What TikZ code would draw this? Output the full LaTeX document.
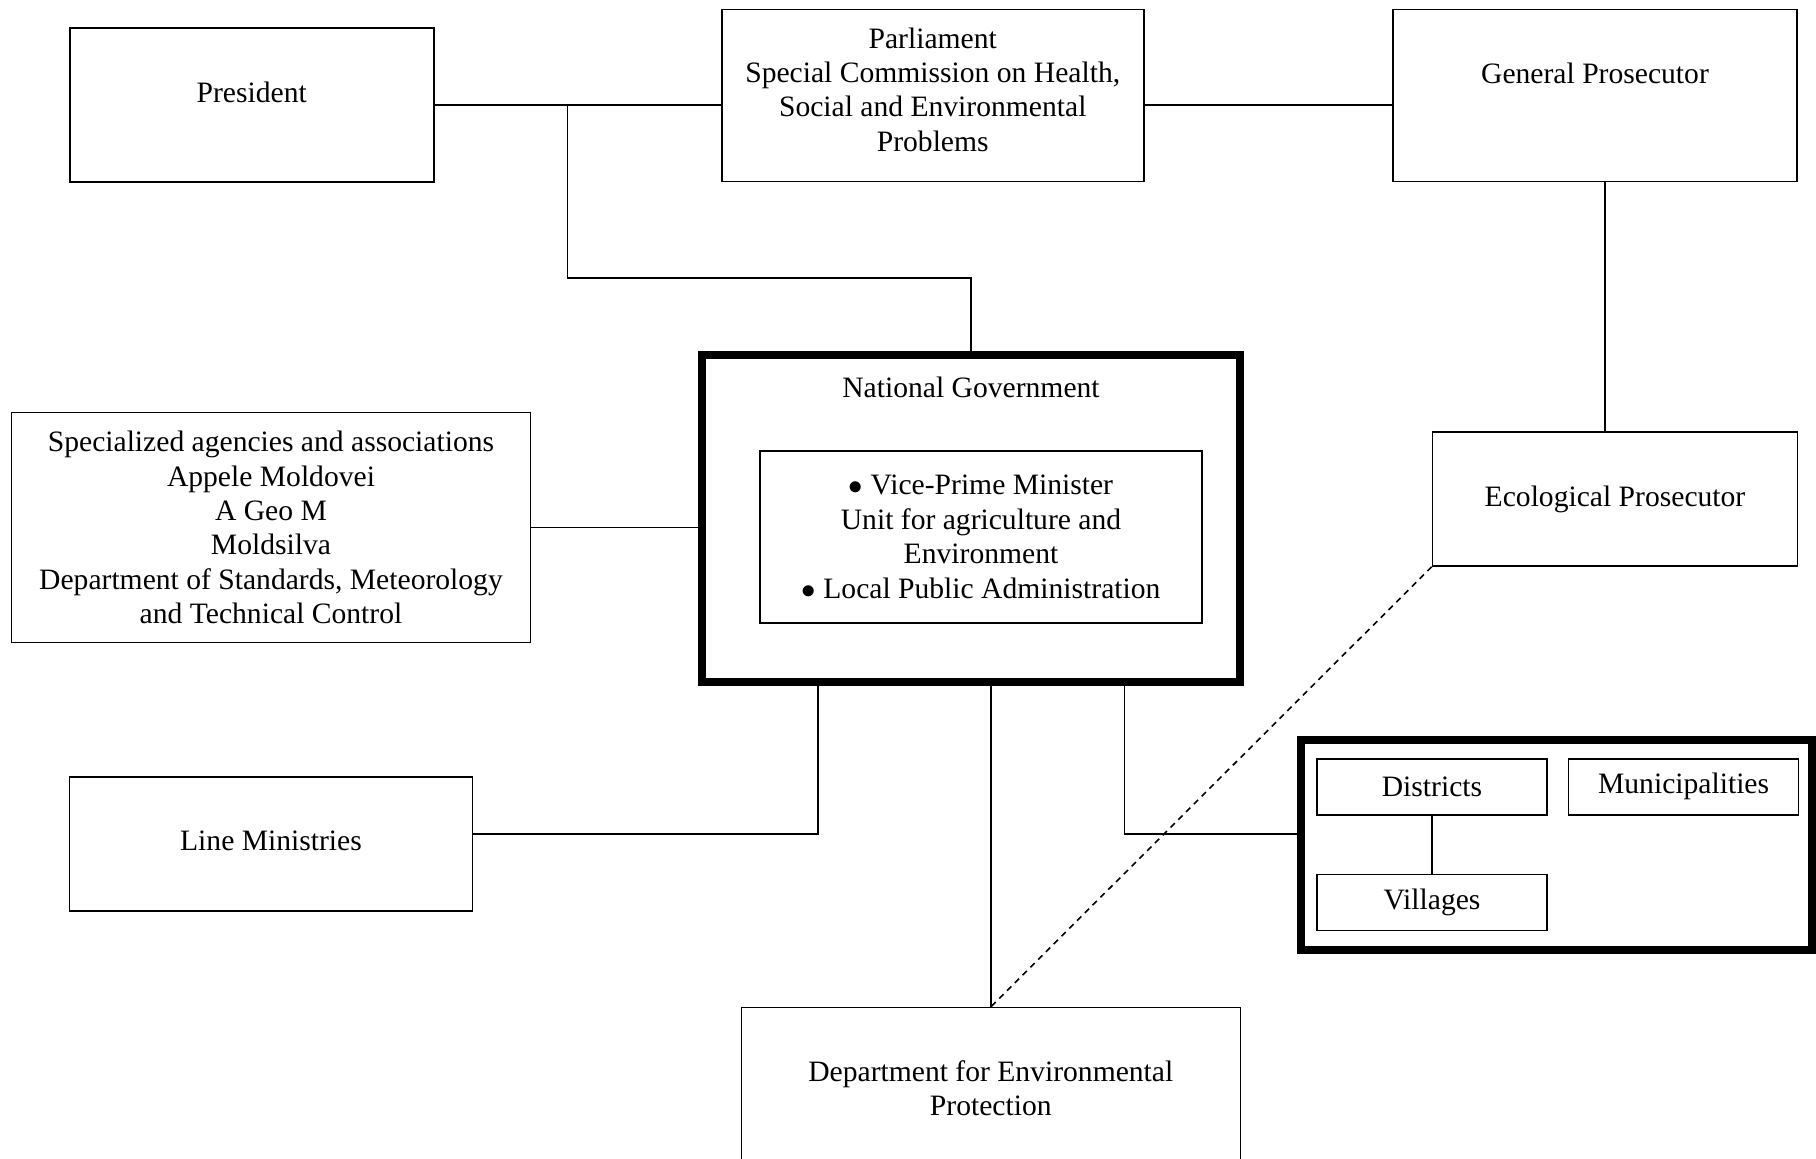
\documentclass[tikz,border=0pt]{standalone}
\usepackage{fontspec}
\setmainfont{Liberation Serif}
\usetikzlibrary{positioning}

\begin{document}
\begin{tikzpicture} [
		x=0.5pt, y=-0.5pt,
		block/.style   = { rectangle, draw=black, line width=0.8pt, align=center,
			font=\fontsize{14.8}{17.2}\selectfont, inner sep=2pt },
		frame/.style   = { rectangle, draw=black, line width=4pt, inner sep=0pt },
		caption/.style = { font=\fontsize{14.8}{17.2}\selectfont, inner sep=0pt },
		line/.style    = { draw, line width=0.8pt },
	]
	\useasboundingbox (0,0) rectangle (1816,1158);
	% Define nodes
	\begin{scope}
		\node [block, minimum width=182pt, minimum height=77pt, text depth=13pt] (pres) at (251.75,104.8) {President};
		\node [block, minimum width=211pt, minimum height=86pt, text depth=6pt] (parl) at (932.75,95.5) {Parliament\\Special Commission on Health,\\Social and Environmental\\Problems};
		\node [block, minimum width=202pt, minimum height=86pt, text depth=22.5pt] (genpros) at (1595,95.5) {General Prosecutor};
		\node [frame, minimum width=269pt, minimum height=163.5pt] (natgov) at (971,518.3) {};
		\node [caption] (ngtitle) at (971,387) {National Government};
		\node [block, line width=1.2pt, minimum width=221pt, minimum height=86pt] (unit) at (981,536.8) {$\bullet$ Vice-Prime Minister\\Unit for agriculture and\\Environment\\$\bullet$ Local Public Administration};
		\node [block, minimum width=259.5pt, minimum height=115pt] (spec) at (271,527.5) {Specialized agencies and associations\\Appele Moldovei\\A Geo M\\Moldsilva\\Department of Standards, Meteorology\\and Technical Control};
		\node [block, minimum width=182.5pt, minimum height=67pt] (ecol) at (1615,499) {Ecological Prosecutor};
		\node [block, minimum width=201.5pt, minimum height=67pt, text depth=3.5pt] (linemin) at (271,844) {Line Ministries};
		\node [block, minimum width=249.5pt, minimum height=80.4pt] (dept) at (990.8,1088) {Department for Environmental\\Protection};
		\node [frame, minimum width=255.5pt, minimum height=105pt] (local) at (1556.5,845) {};
		\node [block, minimum width=115pt, minimum height=28pt] (distr) at (1432,786.8) {Districts};
		\node [block, minimum width=115pt, minimum height=28pt, right=10pt of distr] (munic) {Municipalities};
		\node [block, minimum width=115pt, minimum height=28pt, below=29pt of distr] (vill) {Villages};
	\end{scope}
	% connect all nodes defined above
	\coordinate (jnA) at (567.5,104.8);
	\coordinate (kink) at (567.5,278);
	\coordinate (lmj) at (817.7,834);
	\coordinate (lcj) at (1124.6,834);
	\begin{scope} [every path/.style=line]
		\path (pres.east) -- (pres.east -| parl.west);
		\path (jnA) -- (kink) -| (natgov.north);
		\path (pres.east -| parl.east) -- (pres.east -| genpros.west);
		\path ([xshift=5pt]genpros.south) -- ([xshift=5pt]genpros.south |- ecol.north);
		\path (spec.east) -- (spec.east -| natgov.west);
		\path (lmj |- natgov.south) -- (lmj) -- (lmj -| linemin.east);
		\path (dept.north |- natgov.south) -- (dept.north);
		\path (lcj |- natgov.south) -- (lcj) -- (lcj -| local.west);
		\path (distr) -- (vill);
		\path [dash pattern=on 3pt off 2.5pt] (ecol.south west) -- (dept.north);
	\end{scope}
\end{tikzpicture}
\end{document}
